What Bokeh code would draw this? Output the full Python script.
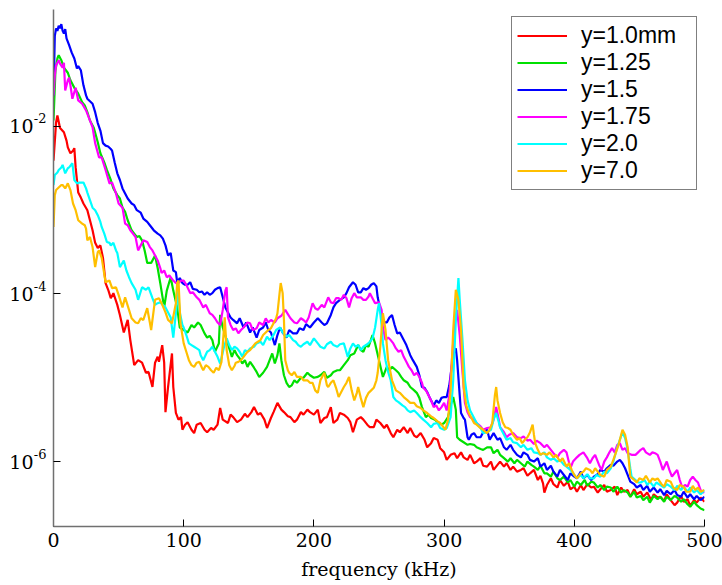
from bokeh.plotting import figure
from bokeh.models import Range1d, FixedTicker, Legend, LegendItem, LogAxis, CustomJSTickFormatter
from bokeh.embed import file_html
from bokeh.resources import INLINE

# ---- data: frequency (kHz) and log10 of spectral power for each series ----
f_red = [0,2,3,5,8,10,11,13,15,16,17,19,21,23,26,28,30,32,34,36,38,40,42,44,46,49,51,54,57,59,62,65,68,71,73,76,78,80,81,83.5,85,86,88,91,92,94,96,98,99,101,103,106,108,110,113,116,118,121,123,126,128,130,134,136,138,141,144,147,149,152,154,157,159,162,164,167,169,172,175,177,180,182,185,187,190,192,195,197,200,203,205,208,210,213,215,218,220,223,226,228,230,233,236,238,241,243,246,248,251,254,256,259,261,264,266,269,272,274,277,279,282,285,287,290,292,295,297,300,302,305,308,310,313,315,318,320,323,325,328,330,333,336,338,341,343,346,348,351,353,356,359,361,364,366,369,372,374,376,377,379,382,384,387,389,392,395,397,400,402,405,407,410,413,415,418,420,423,425,428,431,433,436,438,441,443,446,448,451,453,456,459,461,464,466,469,471,474,477,479,482,484,487,489,492,494,497,500]
lg_red = [-2.41,-1.95,-1.87,-2.02,-2.07,-2.17,-2.25,-2.32,-2.29,-2.26,-2.49,-2.79,-2.85,-2.92,-3.00,-3.12,-3.24,-3.39,-3.45,-3.42,-3.57,-3.87,-3.95,-4.05,-3.99,-4.13,-4.25,-4.46,-4.31,-4.55,-4.85,-4.79,-4.82,-4.94,-4.93,-5.11,-4.82,-4.75,-4.81,-4.61,-4.82,-5.41,-5.11,-4.71,-5.11,-5.42,-5.50,-5.47,-5.62,-5.56,-5.53,-5.62,-5.66,-5.56,-5.54,-5.62,-5.65,-5.60,-5.62,-5.56,-5.36,-5.50,-5.54,-5.44,-5.47,-5.53,-5.50,-5.43,-5.47,-5.41,-5.35,-5.44,-5.42,-5.50,-5.60,-5.48,-5.41,-5.30,-5.38,-5.41,-5.46,-5.47,-5.53,-5.50,-5.41,-5.44,-5.38,-5.41,-5.44,-5.38,-5.54,-5.48,-5.47,-5.35,-5.54,-5.50,-5.42,-5.44,-5.48,-5.53,-5.65,-5.50,-5.47,-5.50,-5.56,-5.59,-5.59,-5.50,-5.54,-5.60,-5.56,-5.66,-5.71,-5.62,-5.65,-5.59,-5.66,-5.60,-5.69,-5.71,-5.66,-5.74,-5.83,-5.78,-5.72,-5.74,-5.84,-5.89,-5.98,-5.92,-5.90,-5.96,-5.89,-5.95,-5.98,-5.92,-6.02,-6.00,-5.96,-6.05,-6.06,-6.00,-6.10,-6.04,-6.00,-6.06,-6.02,-6.10,-6.06,-6.12,-6.10,-6.08,-6.17,-6.14,-6.10,-6.22,-6.17,-6.26,-6.37,-6.28,-6.20,-6.27,-6.31,-6.22,-6.29,-6.24,-6.33,-6.30,-6.36,-6.28,-6.34,-6.27,-6.31,-6.30,-6.37,-6.33,-6.28,-6.36,-6.34,-6.30,-6.40,-6.31,-6.36,-6.34,-6.42,-6.33,-6.39,-6.36,-6.42,-6.37,-6.46,-6.39,-6.43,-6.42,-6.47,-6.39,-6.46,-6.52,-6.49,-6.41,-6.48,-6.45,-6.53,-6.46,-6.49,-6.43,-6.48]

f_green = [0,1.5,3,4,6,8,11,13,16,19,22,24,26,28,31,34,36,39,41,44,46,49,51,53,55,57,60,62,64,66,68,70,72,75,78,80,82,85,87,90,92,95,97,100,103,106,108,111,113,116,118,120,122,124,127,128,130,133,135,137,139,141,143,145,147,149,151,154,156,158,161,164,166,168,170,172,173.5,175,177,179,181,183,185,187,190,192,195,197,200,203,205,208,210,213,215,218,220,223,226,228,231,234,236,238,240,242,245,247,250,253,256,258,260,263,265,267,269,272,274,277,279,281,283,286,288,290,293,295,298,300,303,305,307,309,310,312,315,318,320,323,325,328,330,333,336,338,341,343,346,349,351,354,356,359,362,364,367,369,372,374,377,379,382,384,387,389,392,395,397,400,402,405,408,410,413,415,418,420,423,425,428,430,433,436,438,441,443,446,448,451,453,456,458,461,464,466,469,471,474,477,479,482,484,487,489,492,494,497,500]
lg_green = [-1.93,-1.33,-1.19,-1.15,-1.21,-1.30,-1.36,-1.45,-1.54,-1.61,-1.71,-1.75,-1.83,-1.93,-2.02,-2.19,-2.32,-2.43,-2.52,-2.64,-2.74,-2.82,-2.86,-2.97,-3.02,-3.12,-3.24,-3.28,-3.32,-3.31,-3.36,-3.48,-3.63,-3.63,-3.54,-3.69,-3.87,-4.16,-3.96,-3.80,-3.96,-4.16,-4.40,-4.43,-4.46,-4.37,-4.40,-4.34,-4.37,-4.47,-4.52,-4.50,-4.55,-4.69,-4.59,-4.25,-4.40,-4.55,-4.65,-4.75,-4.67,-4.73,-4.77,-4.83,-4.79,-4.87,-4.81,-4.88,-4.93,-4.99,-4.94,-4.87,-4.79,-4.71,-4.83,-4.73,-4.59,-4.79,-4.97,-5.06,-5.11,-5.09,-5.03,-5.06,-5.00,-5.00,-4.94,-4.97,-5.00,-4.99,-4.97,-4.93,-5.00,-4.97,-4.93,-4.91,-4.91,-4.85,-4.79,-4.73,-4.71,-4.61,-4.67,-4.69,-4.61,-4.63,-4.49,-4.59,-4.79,-4.99,-4.87,-4.91,-4.87,-4.91,-4.94,-4.99,-5.03,-5.06,-5.11,-5.15,-5.18,-5.24,-5.35,-5.47,-5.44,-5.48,-5.50,-5.53,-5.56,-5.54,-5.47,-5.33,-5.23,-5.38,-5.71,-5.74,-5.77,-5.80,-5.79,-5.80,-5.83,-5.85,-5.86,-5.83,-5.83,-5.90,-5.86,-5.92,-5.96,-6.00,-5.96,-6.02,-5.98,-6.02,-6.06,-6.00,-6.04,-6.06,-6.10,-6.05,-6.14,-6.14,-6.18,-6.12,-6.20,-6.22,-6.18,-6.25,-6.22,-6.30,-6.24,-6.28,-6.22,-6.29,-6.24,-6.25,-6.31,-6.28,-6.34,-6.30,-6.31,-6.36,-6.30,-6.37,-6.34,-6.37,-6.42,-6.36,-6.43,-6.41,-6.46,-6.42,-6.49,-6.41,-6.45,-6.42,-6.48,-6.42,-6.46,-6.41,-6.43,-6.48,-6.45,-6.51,-6.54,-6.48,-6.52,-6.56,-6.58]

f_blue = [0,1,2,3,4,5,6,7,8,9,10,12,14,16,18,19,21,23,25,26,28,30,32,34,36,38,40,42,44,45,47,49,51,53,55,57,60,62,64,67,69,72,74,77,80,82,84,86,88,90,92,94,95,97,99,101,103,105,107,110,112,114,116,118,120,122,124,126,128,130,132,134,136,138,141,143,146,148,151,153,156,158,161,163,165,167,170,172,174,176,179,181,184,187,189,192,194,197,200,203,206,208,210,213,215,217,220,223,225,227,230,232,234,236,238,240,242,244,246,248,249,251,253,256,258,260,262,264,266,269,271,274,276,279,281,283,285,287,289,292,294,296,298,300,302,304,306,308,309,310,312,313,315,316,318,319,321,323,325,328,330,333,335,338,341,343,346,348,351,353,356,359,361,364,366,369,372,374,377,379,382,384,387,389,392,395,397,400,402,405,407,410,413,415,418,420,423,425,428,430,433,435,437,439,441,443,446,448,451,453,456,458,461,464,466,469,471,474,477,479,482,484,487,489,492,494,497,500]
lg_blue = [-1.63,-0.92,-0.83,-0.86,-0.80,-0.83,-0.78,-0.86,-0.89,-0.84,-0.95,-1.03,-1.12,-1.19,-1.31,-1.28,-1.33,-1.51,-1.63,-1.67,-1.70,-1.73,-1.83,-1.96,-2.05,-2.20,-2.23,-2.24,-2.27,-2.29,-2.43,-2.56,-2.64,-2.74,-2.80,-2.86,-2.92,-2.94,-3.00,-3.03,-3.10,-3.14,-3.18,-3.24,-3.28,-3.30,-3.34,-3.42,-3.54,-3.51,-3.72,-3.74,-3.86,-3.81,-3.87,-3.89,-3.89,-3.86,-3.94,-3.95,-3.98,-3.97,-4.01,-3.98,-4.01,-3.99,-3.95,-3.93,-3.92,-4.04,-4.16,-4.22,-4.28,-4.31,-4.35,-4.29,-4.40,-4.34,-4.46,-4.40,-4.52,-4.43,-4.40,-4.34,-4.43,-4.46,-4.61,-4.49,-4.40,-4.46,-4.52,-4.43,-4.47,-4.47,-4.41,-4.43,-4.36,-4.40,-4.34,-4.29,-4.34,-4.37,-4.35,-4.25,-4.16,-4.11,-4.07,-4.04,-3.99,-3.92,-3.86,-3.89,-3.98,-3.98,-3.93,-3.95,-3.93,-3.89,-3.87,-3.91,-4.04,-4.19,-4.34,-4.34,-4.28,-4.25,-4.37,-4.47,-4.46,-4.55,-4.61,-4.73,-4.79,-4.87,-4.97,-5.11,-5.12,-5.17,-5.24,-5.33,-5.27,-5.30,-5.24,-5.23,-5.23,-5.09,-4.85,-4.67,-4.65,-4.79,-5.21,-5.42,-5.48,-5.50,-5.71,-5.74,-5.68,-5.66,-5.71,-5.71,-5.65,-5.62,-5.74,-5.66,-5.74,-5.72,-5.83,-5.86,-5.80,-5.86,-5.92,-5.95,-5.89,-5.92,-5.98,-6.00,-5.96,-6.06,-6.02,-6.10,-6.05,-6.12,-6.18,-6.10,-6.16,-6.22,-6.14,-6.18,-6.20,-6.12,-6.20,-6.16,-6.22,-6.18,-6.15,-6.10,-6.12,-6.08,-6.04,-6.05,-6.00,-5.98,-6.02,-6.08,-6.16,-6.24,-6.27,-6.31,-6.28,-6.34,-6.29,-6.36,-6.31,-6.37,-6.33,-6.40,-6.35,-6.39,-6.34,-6.40,-6.42,-6.36,-6.43,-6.39,-6.45,-6.41,-6.46,-6.42]

f_magenta = [0,1,2,4,5,7,8,9,11,12,13,14.5,16,17,19,22,25,27,30,32,35,37,40,43,45,48,50,53,55,57,59,61,63,65,67,69,72,74,76,78,80,82,83,85,87,89,92,94,96,98,100,102,105,107,110,112,115,117,120,122,124,126,128,130,132,133,134,136,138,140,142,144,146,149,151,153,156,158,161,163,165,167,170,172,175,178,180,182,185,187,190,192,194,196,199,201,203,206,208,211,213,215,217,219,221,223,225,227,229,231,233,236,238,240,242,243,245,247,250,252,253,255,257,259,261,263,265,267,269,271,273,275,277,279,281,283,284,286,288,290,292,294,296,298,300,302,304,306,308,310,312,314,316,318,320,323,325,328,330,333,336,338,340,342,343,346,348,350,353,356,359,361,364,366,369,371,374,377,379,382,384,387,389,392,394,397,399,402,404,407,410,412,414,416,419,421,423,425,427,429,431,433,435,437,439,441,444,447,449,451,453,455,458,460,462,464,466,468,471,473,475,477,479,481,483,485,487,489,491,493,495,497,499,500]
lg_magenta = [-1.63,-1.39,-1.27,-1.21,-1.25,-1.30,-1.24,-1.57,-1.45,-1.42,-1.51,-1.67,-1.59,-1.54,-1.69,-1.73,-1.81,-1.89,-2.01,-2.20,-2.37,-2.37,-2.52,-2.68,-2.67,-2.80,-2.92,-2.97,-3.16,-3.18,-3.24,-3.28,-3.32,-3.48,-3.42,-3.36,-3.38,-3.44,-3.48,-3.54,-3.60,-3.69,-3.75,-3.72,-3.80,-3.78,-3.84,-3.87,-3.87,-3.84,-3.84,-3.89,-3.99,-3.98,-4.04,-4.07,-4.16,-4.13,-4.23,-4.25,-4.29,-4.34,-4.37,-4.19,-3.96,-3.92,-4.28,-4.37,-4.43,-4.41,-4.47,-4.43,-4.40,-4.34,-4.35,-4.43,-4.41,-4.34,-4.37,-4.29,-4.34,-4.31,-4.34,-4.29,-4.26,-4.19,-4.24,-4.29,-4.34,-4.35,-4.29,-4.31,-4.34,-4.28,-4.11,-4.17,-4.19,-4.13,-4.16,-4.04,-4.10,-4.11,-4.05,-4.05,-4.07,-4.01,-4.05,-4.16,-4.05,-3.99,-4.04,-4.04,-4.07,-4.07,-4.03,-3.99,-4.05,-4.11,-4.10,-4.19,-4.40,-4.55,-4.52,-4.55,-4.59,-4.65,-4.69,-4.67,-4.75,-4.81,-4.87,-4.91,-4.97,-4.94,-4.99,-5.06,-5.12,-5.15,-5.21,-5.27,-5.35,-5.33,-5.39,-5.35,-5.30,-5.39,-5.21,-4.79,-4.37,-4.19,-4.49,-4.91,-5.30,-5.41,-5.47,-5.50,-5.54,-5.58,-5.62,-5.60,-5.59,-5.50,-5.35,-5.50,-5.59,-5.65,-5.71,-5.68,-5.66,-5.71,-5.72,-5.70,-5.75,-5.74,-5.79,-5.75,-5.78,-5.83,-5.80,-5.86,-5.90,-5.95,-5.90,-5.86,-5.89,-6.08,-6.00,-5.95,-5.92,-5.89,-5.96,-6.02,-5.96,-5.92,-6.04,-6.10,-6.00,-5.95,-5.89,-5.84,-5.89,-5.80,-5.78,-5.86,-5.84,-5.90,-5.92,-5.92,-5.89,-5.86,-5.84,-5.89,-5.92,-5.89,-5.90,-5.92,-6.00,-6.10,-6.00,-6.10,-6.18,-6.14,-6.10,-6.22,-6.31,-6.28,-6.30,-6.22,-6.18,-6.22,-6.25,-6.34,-6.37,-6.36]

f_cyan = [0,1,3,4,6,7,9,11,12,14.5,16,18,20,23,25,26,28,30,32,34,36,37,39,41,43,44,46,48,49,51,54,56,58,60,63,65,68,71,73,76,78,80,82,84,86,88,90,92,94,95.5,97,99,100,102,104,106,108,110,112,113,115,118,120,122,124,126,128,131,133,135,137,139,141,143,145,147,149,151,154,156,159,161,164,166,169,171,174,176,179,181,184,186,188,190,192,195,197,200,203,205,208,210,213,215,218,220,223,226,228,230,232,234,236,238,241,243,245,247,249,250,252,253,255,257,259,261,263,265,268,270,272,274,277,279,282,284,287,290,292,295,297,300,302,305,307,309,311,312,314,316,318,320,323,325,328,330,333,336,338,340,342,343,346,348,351,353,356,359,361,364,367,369,372,374,377,379,382,384,387,389,392,394,397,399,402,405,407,410,412,415,417,420,423,425,428,430,433,435,437,439,441,443,444,447,449,451,454,456,458,461,463,466,469,471,474,477,479,482,484,487,489,492,494,497,500]
lg_cyan = [-2.70,-2.58,-2.55,-2.52,-2.49,-2.46,-2.56,-2.50,-2.49,-2.44,-2.64,-2.68,-2.67,-2.67,-2.74,-2.79,-2.88,-2.97,-3.00,-3.06,-3.14,-3.20,-3.28,-3.38,-3.39,-3.42,-3.39,-3.48,-3.51,-3.68,-3.60,-3.72,-3.80,-3.87,-3.95,-4.07,-3.92,-3.95,-3.92,-4.05,-4.13,-4.11,-4.10,-4.13,-4.16,-4.22,-4.28,-4.52,-4.23,-3.95,-4.22,-4.37,-4.40,-4.49,-4.59,-4.61,-4.63,-4.65,-4.67,-4.73,-4.79,-4.69,-4.67,-4.63,-4.69,-4.75,-4.83,-4.63,-4.53,-4.61,-4.67,-4.63,-4.65,-4.69,-4.75,-4.67,-4.69,-4.65,-4.63,-4.59,-4.57,-4.61,-4.51,-4.55,-4.49,-4.43,-4.40,-4.46,-4.51,-4.49,-4.55,-4.57,-4.61,-4.63,-4.60,-4.57,-4.61,-4.53,-4.59,-4.63,-4.65,-4.60,-4.57,-4.61,-4.63,-4.60,-4.59,-4.75,-4.65,-4.59,-4.63,-4.61,-4.67,-4.63,-4.60,-4.57,-4.53,-4.40,-4.19,-4.11,-4.37,-4.59,-4.79,-4.93,-5.03,-5.23,-5.27,-5.29,-5.33,-5.35,-5.39,-5.41,-5.39,-5.42,-5.47,-5.50,-5.54,-5.59,-5.55,-5.54,-5.60,-5.62,-5.60,-5.47,-5.03,-4.31,-3.81,-4.07,-4.52,-5.03,-5.27,-5.39,-5.48,-5.54,-5.60,-5.66,-5.65,-5.62,-5.50,-5.42,-5.53,-5.59,-5.68,-5.74,-5.72,-5.77,-5.78,-5.83,-5.80,-5.86,-5.84,-5.89,-5.90,-5.92,-5.89,-5.95,-5.98,-5.96,-6.00,-5.98,-6.04,-6.06,-6.10,-6.14,-6.20,-6.16,-6.20,-6.15,-6.20,-6.20,-6.16,-6.18,-6.12,-6.14,-6.08,-6.00,-5.83,-5.74,-5.65,-5.72,-5.86,-6.08,-6.18,-6.22,-6.25,-6.25,-6.22,-6.28,-6.24,-6.30,-6.25,-6.28,-6.31,-6.27,-6.30,-6.34,-6.29,-6.34,-6.30,-6.36,-6.31,-6.37,-6.34,-6.39,-6.34]

f_orange = [0,1,2,4,6,7,9,11,13,15,17,19,22,24,25,26,28,30,32,34,35,37,40,43,45,48,50,53,55,58,60,63,65,67,69,72,74,75,77,78,81,83,86,88,91,93,94,95,96,97.5,100,102,104,106,108,110,112,114,115,117,119,121,123,125,127,129,130,131.5,133,135,137,139,140,142,144,146,147,149,151,153,155,157,159,161,163,165,167,169,171,172,173.5,174.5,176,177,178,180,181,183,185,187,190,192,195,197,199,201,203,205,208,210,211,213,215,217,219,221,223,225,227,229,231,233,234,236,238,240,242,244,246,248,249,251,253,255,257,260,263,266,269,272,274,277,279,282,284,287,290,292,295,297,300,301,303,305,307,309,311,313,315,317,319,321,323,325,328,330,333,335,337,339,340,341,343,345,347,349,351,353,356,358,360,362,364,366,368,369,370,372,374,376,379,381,384,386,389,391,394,396,398,400,402,405,407,409,412,414,416,418,420,423,425,428,430,432,434,436,437,439,441,443,446,448,450,453,455,458,460,462,464,467,469,471,474,476,479,481,484,486,489,491,493,495,497,500]
lg_orange = [-3.20,-2.82,-2.76,-2.73,-2.70,-2.70,-2.74,-2.68,-2.76,-2.92,-3.00,-3.12,-3.16,-3.18,-3.22,-3.36,-3.32,-3.44,-3.68,-3.50,-3.48,-3.57,-3.86,-3.84,-3.93,-3.92,-4.01,-4.16,-4.04,-4.19,-4.29,-4.34,-4.35,-4.29,-4.31,-4.17,-4.34,-4.43,-4.19,-4.07,-4.05,-4.11,-4.22,-4.31,-4.35,-4.19,-4.11,-3.87,-3.84,-4.35,-4.59,-4.69,-4.79,-4.85,-4.87,-4.82,-4.81,-4.88,-4.91,-4.85,-4.87,-4.91,-4.94,-4.88,-4.91,-4.81,-4.61,-4.28,-4.67,-4.85,-4.91,-4.86,-4.82,-4.81,-4.79,-4.75,-4.73,-4.69,-4.67,-4.63,-4.59,-4.57,-4.55,-4.49,-4.46,-4.43,-4.41,-4.35,-4.29,-4.23,-4.01,-3.87,-3.99,-4.31,-4.79,-4.91,-4.94,-4.97,-4.93,-4.99,-4.99,-5.03,-5.03,-5.06,-5.06,-5.15,-5.18,-5.03,-4.94,-5.09,-5.11,-5.06,-5.03,-5.12,-5.23,-5.17,-5.11,-5.06,-4.99,-5.15,-5.27,-5.18,-5.11,-5.24,-5.35,-5.24,-5.18,-5.15,-5.12,-5.03,-4.94,-4.63,-4.23,-4.43,-4.79,-5.03,-5.15,-5.18,-5.23,-5.27,-5.30,-5.30,-5.34,-5.36,-5.39,-5.42,-5.46,-5.48,-5.52,-5.54,-5.60,-5.62,-5.50,-5.15,-4.43,-3.95,-4.07,-4.43,-5.11,-5.33,-5.42,-5.48,-5.54,-5.56,-5.60,-5.62,-5.66,-5.62,-5.54,-5.21,-5.11,-5.27,-5.42,-5.53,-5.59,-5.60,-5.62,-5.68,-5.74,-5.72,-5.78,-5.74,-5.71,-5.65,-5.56,-5.68,-5.78,-5.86,-5.92,-5.90,-5.92,-5.89,-5.95,-5.92,-6.00,-5.96,-6.06,-6.02,-6.10,-6.16,-6.20,-6.14,-6.12,-6.08,-6.10,-6.14,-6.08,-6.12,-6.16,-6.18,-6.10,-6.06,-5.98,-5.89,-5.80,-5.68,-5.62,-5.68,-5.83,-6.18,-6.22,-6.25,-6.20,-6.22,-6.17,-6.25,-6.20,-6.22,-6.20,-6.27,-6.30,-6.22,-6.24,-6.31,-6.34,-6.28,-6.30,-6.36,-6.36,-6.29,-6.34,-6.31,-6.36,-6.34]

labels = ["y=1.0mm", "y=1.25", "y=1.5", "y=1.75", "y=2.0", "y=7.0"]
colors = ["#ff0000", "#00e000", "#0000ff", "#ff00ff", "#00ffff", "#ffbf00"]
series = [(f_red, lg_red), (f_green, lg_green), (f_blue, lg_blue),
          (f_magenta, lg_magenta), (f_cyan, lg_cyan), (f_orange, lg_orange)]
x_ticks = [0, 100, 200, 300, 400, 500]
y_ticks = [1e-6, 1e-4, 1e-2]

SERIF = "DejaVu Serif"

p = figure(width=722, height=585, y_axis_type="log",
           x_range=Range1d(0, 500), y_range=Range1d(10 ** -6.775, 10 ** -0.605),
           output_backend="svg", toolbar_location=None,
           min_border_left=53, min_border_right=18, min_border_top=9, min_border_bottom=59)
p.outline_line_color = None
p.xgrid.visible = False
p.ygrid.visible = False
p.background_fill_color = "white"
p.border_fill_color = "white"

items = []
for (fx, lg), lab, col in zip(series, labels, colors):
    vals = [10 ** v for v in lg]
    r = p.line(fx, vals, line_color=col, line_width=2.2)
    items.append(LegendItem(label=lab, renderers=[r]))

legend = Legend(items=items, location="top_right",
                label_text_font="Liberation Sans", label_text_font_size="23px",
                label_text_color="black",
                glyph_width=50, glyph_height=27, label_height=27, label_width=110,
                label_standoff=14, padding=5, spacing=0, margin=7,
                border_line_color="black", border_line_width=1.2,
                background_fill_color="white", background_fill_alpha=1.0)
p.add_layout(legend)

for ax in (p.xaxis, p.yaxis):
    ax.axis_line_color = "#707070"
    ax.axis_line_width = 1.5
    ax.major_tick_line_color = "black"
    ax.major_tick_in = 7
    ax.major_tick_out = 0
    ax.minor_tick_line_color = None
    ax.major_label_text_color = "black"
    ax.major_label_text_font = SERIF

p.xaxis.ticker = FixedTicker(ticks=x_ticks)
p.xaxis.major_label_text_font_size = "19px"
p.xaxis.major_label_standoff = 6
p.xaxis.axis_label = "frequency (kHz)"
p.xaxis.axis_label_text_font = SERIF
p.xaxis.axis_label_text_font_size = "19px"
p.xaxis.axis_label_text_font_style = "normal"
p.xaxis.axis_label_text_color = "black"
p.xaxis.axis_label_standoff = 8

# inner y axis: ticks + exponent (superscript) part of the labels,
# raised by rendering it as the first of two lines
p.yaxis.ticker = FixedTicker(ticks=y_ticks)
p.yaxis.major_label_standoff = 7
p.yaxis.major_label_text_font_size = "13px"
p.yaxis.major_label_text_line_height = 1.0
p.yaxis.formatter = CustomJSTickFormatter(
    code="return String(Math.round(Math.log10(tick))) + '\\n\\u00a0';")

# outer y axis: the base "10" of each label
base_axis = LogAxis(ticker=FixedTicker(ticks=y_ticks),
                    formatter=CustomJSTickFormatter(code='return "10";'),
                    axis_line_color=None, major_tick_line_color=None,
                    minor_tick_line_color=None, major_label_standoff=-9,
                    major_label_text_font=SERIF,
                    major_label_text_font_size="19px",
                    major_label_text_color="black")
p.add_layout(base_axis, "left")

open("out.html", "w").write(file_html(p, INLINE))
